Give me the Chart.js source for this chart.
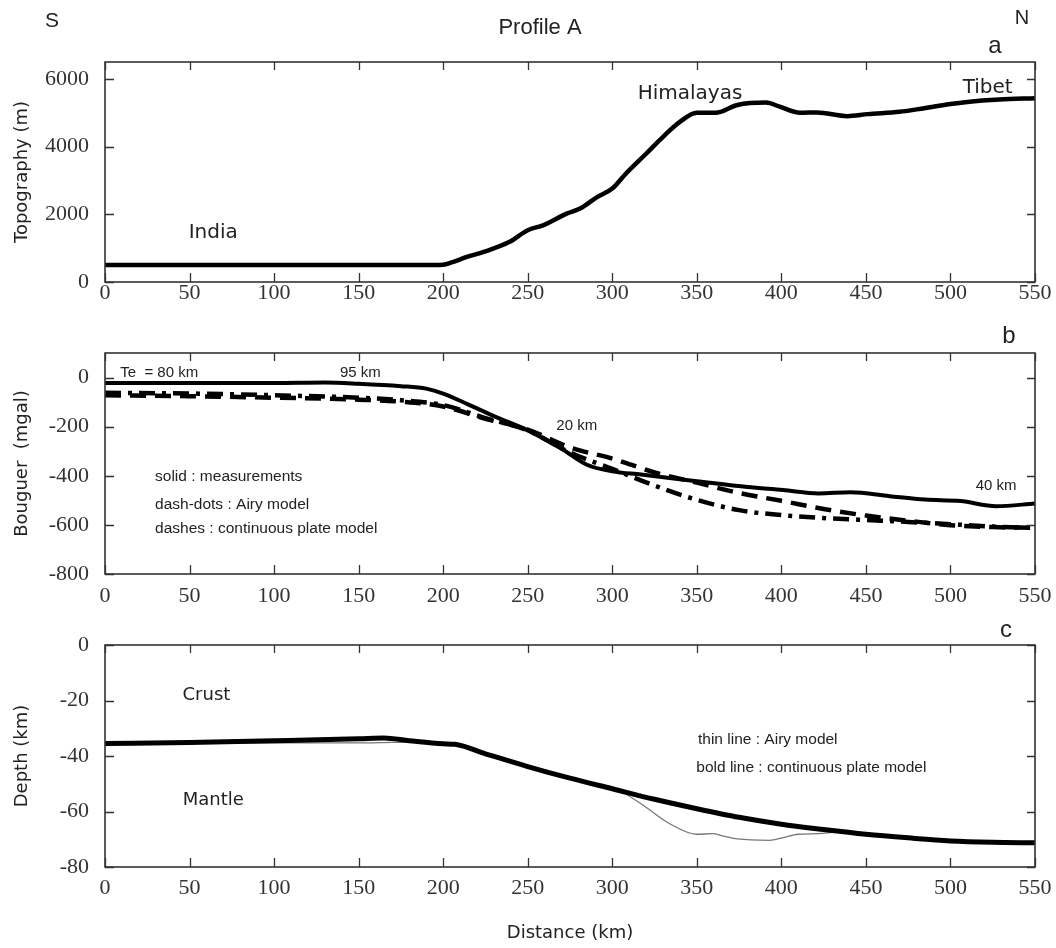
<!DOCTYPE html>
<html>
<head>
<meta charset="utf-8">
<title>Profile A</title>
<script src="https://cdn.jsdelivr.net/npm/chart.js@4.4.1/dist/chart.umd.min.js"></script>
<style>
  body { margin: 0; background: #fff; }
  #wrap { position: relative; width: 1056px; height: 948px; }
  canvas { position: absolute; left: 0; }
</style>
</head>
<body>
<div id="wrap">
  <canvas id="chart-topo" width="1056" height="310" style="top:0"></canvas>
  <canvas id="chart-bouguer" width="1056" height="310" style="top:310px"></canvas>
  <canvas id="chart-depth" width="1056" height="328" style="top:620px"></canvas>
</div>
<script>
// panel a: topography (m) along the profile
const topoDist = [0, 50, 100, 150, 195, 200, 205, 214, 224, 239, 250, 259, 273, 281, 291, 300, 308, 320, 330, 340, 350, 361, 374, 391, 399, 411, 421, 439, 451, 470, 480, 500, 510, 529, 550];
const topoHeight = [500, 500, 500, 500, 500, 510, 580, 740, 890, 1180, 1530, 1675, 2020, 2170, 2510, 2760, 3200, 3790, 4290, 4730, 5000, 5000, 5230, 5300, 5180, 5000, 5010, 4900, 4960, 5030, 5100, 5260, 5320, 5390, 5430];

// panel b: Bouguer anomaly (mgal)
const measDist = [0, 50, 100, 130, 150, 175, 190, 200, 215, 231, 250, 270, 285, 300, 317, 350, 380, 401, 422, 441, 464, 485, 506, 527, 550];
const measured = [-22, -22, -22, -20, -25, -35, -45, -65, -110, -160, -215, -290, -355, -382, -395, -422, -446, -458, -472, -467, -483, -497, -503, -524, -513];
const modelDist = [0, 50, 100, 150, 175, 200, 225, 250, 275, 300, 325, 350, 375, 400, 425, 450, 475, 500, 525, 550];
const airyGravity = [-62, -65, -72, -82, -92, -112, -165, -215, -305, -372, -440, -498, -540, -560, -572, -580, -588, -597, -607, -612];
const plateGravity = [-72, -76, -82, -90, -98, -118, -168, -212, -285, -330, -386, -428, -470, -502, -535, -562, -583, -601, -609, -612];

// panel c: Moho depth (km)
const plateDist = [0, 50, 100, 150, 165, 180, 200, 207, 225, 250, 275, 300, 325, 350, 375, 400, 425, 450, 475, 500, 525, 550];
const plateDepth = [-35.5, -35.1, -34.5, -33.8, -33.5, -34.5, -35.6, -35.8, -39.2, -43.8, -48, -51.8, -55.6, -59, -62.1, -64.6, -66.5, -68.2, -69.5, -70.6, -71.1, -71.3];
const airyDist = [0, 50, 100, 150, 170, 185, 200, 207, 225, 250, 275, 300, 305, 317, 334, 350, 359, 366, 374, 393, 401, 410, 422, 433, 450, 475, 500, 525, 550];
const airyDepth = [-35.5, -35.4, -35.3, -35.3, -35.1, -35, -35.8, -36, -39.3, -43.9, -48.1, -51.9, -52.8, -57.2, -64.4, -68.2, -68, -68.9, -69.9, -70.4, -69.4, -68.2, -68, -67.4, -68.2, -69.5, -70.6, -71.1, -71.3];

const xTicks = [0, 50, 100, 150, 200, 250, 300, 350, 400, 450, 500, 550];

const pts = (xs, ys) => xs.map((x, i) => ({ x: x, y: ys[i] }));

const tickFont = { family: 'Liberation Serif', size: 22 };
const titleFont = { family: 'DejaVu Sans', size: 18 };
const ink = '#222';

// frame with tick marks pointing inwards, on all four sides
const frameTicks = {
    id: 'frameTicks',
    afterDatasetsDraw(chart) {
        const { ctx, chartArea: a, scales } = chart;
        ctx.save();
        ctx.strokeStyle = '#333';
        ctx.lineWidth = 1.6;
        ctx.strokeRect(a.left, a.top, a.right - a.left, a.bottom - a.top);
        ctx.lineWidth = 1.3;
        ctx.beginPath();
        scales.x.ticks.forEach(t => {
            const p = Math.round(scales.x.getPixelForValue(t.value)) + 0.5;
            ctx.moveTo(p, a.bottom); ctx.lineTo(p, a.bottom - 9);
            ctx.moveTo(p, a.top); ctx.lineTo(p, a.top + 8);
        });
        scales.y.ticks.forEach(t => {
            const p = Math.round(scales.y.getPixelForValue(t.value)) + 0.5;
            ctx.moveTo(a.left, p); ctx.lineTo(a.left + 9, p);
            ctx.moveTo(a.right, p); ctx.lineTo(a.right - 8, p);
        });
        ctx.stroke();
        ctx.restore();
    }
};

// free text: data coordinates, or canvas pixels when px is set
function notes(list) {
    return {
        id: 'notes',
        afterDraw(chart) {
            const { ctx, scales } = chart;
            ctx.save();
            ctx.fillStyle = ink;
            ctx.textBaseline = 'middle';
            list.forEach(n => {
                const x = n.px ? n.x : scales.x.getPixelForValue(n.x);
                const y = n.px ? n.y : scales.y.getPixelForValue(n.y);
                ctx.font = n.font;
                ctx.textAlign = n.align || 'center';
                ctx.fillText(n.text, x, y);
            });
            ctx.restore();
        }
    };
}

function baseOptions(o) {
    return {
        responsive: false,
        animation: false,
        events: [],
        layout: { padding: { left: 0, right: 21, top: o.top, bottom: 0 } },
        plugins: { legend: { display: false }, tooltip: { enabled: false } },
        elements: { point: { radius: 0 }, line: { cubicInterpolationMode: 'monotone', borderCapStyle: 'butt' } },
        scales: {
            x: {
                type: 'linear', min: 0, max: 550,
                afterBuildTicks: s => { s.ticks = xTicks.map(v => ({ value: v })); },
                afterFit: s => { s.height = o.xHeight; },
                grid: { display: false },
                border: { display: false },
                ticks: { font: tickFont, color: '#333', padding: o.xPad, maxRotation: 0, callback: v => String(v) },
                title: o.xTitle ? { display: true, text: o.xTitle, font: titleFont, color: ink, padding: { top: 4, bottom: 4 } } : { display: false }
            },
            y: {
                type: 'linear', min: o.min, max: o.max,
                afterBuildTicks: s => { s.ticks = o.yTicks.map(v => ({ value: v })); },
                afterFit: s => { s.width = 105; },
                grid: { display: false },
                border: { display: false },
                ticks: { font: tickFont, color: '#333', padding: 8, callback: v => String(v) },
                title: { display: true, text: o.yTitle, font: titleFont, color: ink, padding: { top: 12, bottom: 0 } }
            }
        }
    };
}

document.addEventListener('DOMContentLoaded', function() {
    new Chart(document.getElementById('chart-topo'), {
        type: 'line',
        data: {
            datasets: [{
                data: pts(topoDist, topoHeight),
                borderColor: '#000', borderWidth: 4.5
            }]
        },
        options: baseOptions({ top: 62, xHeight: 28, xPad: -9.5, min: 0, max: 6500, yTicks: [0, 2000, 4000, 6000], yTitle: 'Topography (m)' }),
        plugins: [frameTicks, notes([
            { text: 'S', x: 52, y: 21, px: true, font: '21px "Liberation Sans"' },
            { text: 'Profile A', x: 540, y: 28, px: true, font: '22px "Liberation Sans"' },
            { text: 'N', x: 1022, y: 18, px: true, font: '20px "Liberation Sans"' },
            { text: 'a', x: 995, y: 46, px: true, font: '24px "Liberation Sans"' },
            { text: 'India', x: 64, y: 1450, font: '20px "DejaVu Sans"' },
            { text: 'Himalayas', x: 346, y: 5570, font: '20px "DejaVu Sans"' },
            { text: 'Tibet', x: 522, y: 5730, font: '20px "DejaVu Sans"' }
        ])]
    });

    new Chart(document.getElementById('chart-bouguer'), {
        type: 'line',
        data: {
            datasets: [
                { data: pts(measDist, measured), borderColor: '#000', borderWidth: 4 },
                { data: pts(modelDist, airyGravity), borderColor: '#000', borderWidth: 4.5, borderDash: [16, 7, 4, 7] },
                { data: pts(modelDist, plateGravity), borderColor: '#000', borderWidth: 4.5, borderDash: [16, 9] }
            ]
        },
        options: baseOptions({ top: 43, xHeight: 46, xPad: 1.5, min: -800, max: 100, yTicks: [-800, -600, -400, -200, 0], yTitle: 'Bouguer  (mgal)' }),
        plugins: [frameTicks, notes([
            { text: 'b', x: 1009, y: 26, px: true, font: '24px "Liberation Sans"' },
            { text: 'Te  = 80 km', x: 9, y: 20, align: 'left', font: '15px "Liberation Sans"' },
            { text: '95 km', x: 151, y: 20, font: '15px "Liberation Sans"' },
            { text: '20 km', x: 279, y: -196, font: '15px "Liberation Sans"' },
            { text: '40 km', x: 527, y: -442, font: '15px "Liberation Sans"' },
            { text: 'solid : measurements', x: 29.6, y: -405, align: 'left', font: '15.5px "Liberation Sans"' },
            { text: 'dash-dots : Airy model', x: 29.6, y: -516, align: 'left', font: '15.5px "Liberation Sans"' },
            { text: 'dashes : continuous plate model', x: 29.6, y: -614, align: 'left', font: '15.5px "Liberation Sans"' }
        ])]
    });

    new Chart(document.getElementById('chart-depth'), {
        type: 'line',
        data: {
            datasets: [
                { data: pts(plateDist, plateDepth), borderColor: '#000', borderWidth: 5 },
                { data: pts(airyDist, airyDepth), borderColor: '#777', borderWidth: 1.3 }
            ]
        },
        options: baseOptions({ top: 25, xHeight: 81, xPad: 0.5, min: -80, max: 0, yTicks: [-80, -60, -40, -20, 0], yTitle: 'Depth (km)', xTitle: 'Distance (km)' }),
        plugins: [frameTicks, notes([
            { text: 'c', x: 1006, y: 10, px: true, font: '24px "Liberation Sans"' },
            { text: 'Crust', x: 60, y: -18.2, font: '18px "DejaVu Sans"' },
            { text: 'Mantle', x: 64, y: -56, font: '18px "DejaVu Sans"' },
            { text: 'thin line : Airy model', x: 350.7, y: -34.2, align: 'left', font: '15.5px "Liberation Sans"' },
            { text: 'bold line : continuous plate model', x: 349.7, y: -44.3, align: 'left', font: '15.5px "Liberation Sans"' }
        ])]
    });
});
</script>
</body>
</html>
